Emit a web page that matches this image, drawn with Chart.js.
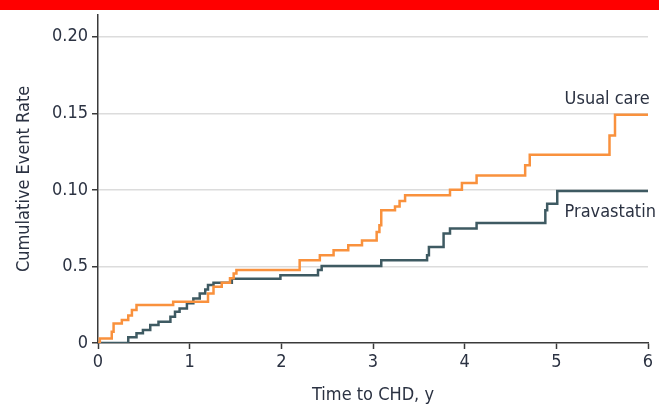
<!DOCTYPE html>
<html>
<head>
<meta charset="utf-8">
<script src="https://cdn.jsdelivr.net/npm/chart.js@4/dist/chart.umd.min.js"></script>
<style>
    html, body { margin: 0; padding: 0; background: #fff; }
    #wrap { width: 659px; height: 406px; }
</style>
</head>
<body>
<div id="wrap"><canvas id="kmChart" width="659" height="406"></canvas></div>
<script>
// time to event (years) and cumulative event rate
const usualTimes = [0, 0.02, 0.15, 0.17, 0.26, 0.33, 0.37, 0.42, 0.82, 1.2, 1.26, 1.35, 1.44, 1.48, 1.51,
    2.2, 2.42, 2.57, 2.73, 2.88, 3.04, 3.07, 3.09, 3.24, 3.29, 3.35, 3.84, 3.97, 4.13, 4.66, 4.71, 5.58, 5.64, 6.0];
const usualRates = [0, 0.003, 0.0074, 0.0128, 0.015, 0.018, 0.0215, 0.0248, 0.027, 0.0324, 0.0367, 0.0393, 0.0423, 0.0454, 0.0476,
    0.054, 0.0573, 0.0606, 0.0638, 0.067, 0.0725, 0.0769, 0.0866, 0.0892, 0.0927, 0.0964, 0.1001, 0.1044, 0.1094, 0.116, 0.123, 0.1355, 0.149, 0.149];

const pravaTimes = [0, 0.33, 0.42, 0.49, 0.57, 0.66, 0.79, 0.84, 0.89, 0.97, 1.04, 1.11, 1.17, 1.2, 1.26, 1.46,
    1.99, 2.4, 2.44, 3.09, 3.59, 3.61, 3.77, 3.84, 4.13, 4.88, 4.9, 5.01, 6.0];
const pravaRates = [0, 0.0037, 0.0063, 0.0085, 0.0117, 0.0139, 0.0171, 0.0204, 0.0226, 0.0259, 0.0291, 0.0324, 0.035, 0.0378, 0.0393, 0.042,
    0.0443, 0.0476, 0.0502, 0.054, 0.0573, 0.0627, 0.0715, 0.0747, 0.0784, 0.0866, 0.091, 0.0992, 0.0992];

const xTicks = [0, 1, 2, 3, 4, 5, 6];
const yTickValues = [0, 0.05, 0.10, 0.15, 0.20];
const yTickLabels = ['0', '0.5', '0.10', '0.15', '0.20'];

// curve labels: text, anchor x (years), anchor y (rate)
const curveLabels = [
    { text: 'Usual care', x: 5.09, y: 0.159 },
    { text: 'Pravastatin', x: 5.09, y: 0.085 }
];

const FONT = "'DejaVu Sans Condensed', 'DejaVu Sans', sans-serif";
const textColor = '#2b3242';
const axisColor = '#3a3a3a';

function toPoints(xs, ys) {
    return xs.map((x, i) => ({ x: x, y: ys[i] }));
}

// red band at the very top + curve labels
const extras = {
    id: 'extras',
    beforeDraw(chart) {
        const c = chart.ctx;
        c.save();
        c.fillStyle = '#ff0000';
        c.fillRect(0, 0, chart.width, 10);
        c.restore();
    },
    afterDatasetsDraw(chart) {
        const c = chart.ctx;
        const xs = chart.scales.x, ys = chart.scales.y;
        c.save();
        c.font = '18px ' + FONT;
        c.textAlign = 'left';
        c.textBaseline = 'middle';
        c.fillStyle = textColor;
        curveLabels.forEach(l => {
            c.fillText(l.text, xs.getPixelForValue(l.x), ys.getPixelForValue(l.y));
        });
        c.restore();
    }
};

const chartConfig = {
    type: 'line',
    data: {
        datasets: [
            {
                label: 'Usual care',
                data: toPoints(usualTimes, usualRates),
                borderColor: '#f9913d',
                borderWidth: 2.5,
                stepped: 'before',
                pointRadius: 0,
                fill: false
            },
            {
                label: 'Pravastatin',
                data: toPoints(pravaTimes, pravaRates),
                borderColor: '#3e5a62',
                borderWidth: 2.5,
                stepped: 'before',
                pointRadius: 0,
                fill: false
            }
        ]
    },
    options: {
        responsive: false,
        animation: false,
        layout: { padding: { top: 8, right: 11, left: 0, bottom: 0 } },
        plugins: {
            legend: { display: false },
            tooltip: { enabled: false }
        },
        scales: {
            x: {
                type: 'linear',
                min: 0,
                max: 6,
                afterBuildTicks: s => { s.ticks = xTicks.map(v => ({ value: v })); },
                afterFit: s => { s.height = 63; },
                border: { color: axisColor, width: 1.5 },
                grid: { drawOnChartArea: false, tickColor: axisColor, tickLength: 6, tickWidth: 1.5 },
                ticks: { color: textColor, padding: 3, maxRotation: 0, font: { family: FONT, size: 18 } },
                title: {
                    display: true,
                    text: 'Time to CHD, y',
                    color: textColor,
                    padding: { top: 0, bottom: 0 },
                    font: { family: FONT, size: 18 }
                }
            },
            y: {
                min: 0,
                max: 0.2143,
                afterBuildTicks: s => { s.ticks = yTickValues.map(v => ({ value: v })); },
                afterFit: s => { s.width = 98; },
                border: { color: axisColor, width: 1.5 },
                grid: {
                    color: ctx => (ctx.tick && ctx.tick.value === 0) ? 'rgba(0,0,0,0)' : '#dcdcdc',
                    lineWidth: 1.5,
                    tickColor: axisColor,
                    tickLength: 6,
                    tickWidth: 1.5
                },
                ticks: {
                    color: textColor,
                    padding: 4,
                    font: { family: FONT, size: 18 },
                    callback: (v, i) => yTickLabels[i]
                },
                title: {
                    display: true,
                    text: 'Cumulative Event Rate',
                    color: textColor,
                    padding: { top: 14, bottom: 0 },
                    font: { family: FONT, size: 18 }
                }
            }
        }
    },
    plugins: [extras]
};

const ctx = document.getElementById('kmChart').getContext('2d');
const kmChart = new Chart(ctx, chartConfig);
</script>
</body>
</html>
